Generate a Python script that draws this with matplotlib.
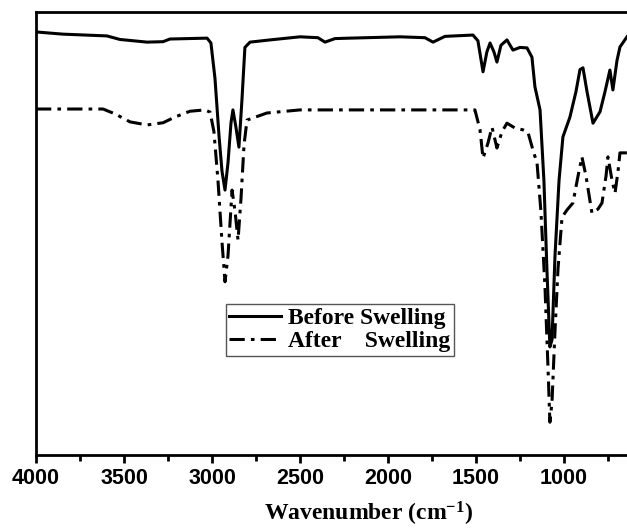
import matplotlib
matplotlib.use("Agg")
import matplotlib.pyplot as plt
from matplotlib.ticker import MultipleLocator

plt.rcParams['mathtext.fontset'] = 'custom'
plt.rcParams['mathtext.rm'] = 'Liberation Serif:bold'
plt.rcParams['mathtext.it'] = 'Liberation Serif:bold'
plt.rcParams['mathtext.bf'] = 'Liberation Serif:bold'

# Before swelling (solid line): wavenumber (cm-1) and transmittance (a.u.)
before_wn = [4000, 3847, 3597, 3523, 3369, 3278, 3239, 3028, 3006, 2983, 2960, 2943,
             2926, 2909, 2892, 2881, 2864, 2847, 2830, 2813, 2784, 2670, 2500, 2398,
             2358, 2301, 2216, 1932, 1790, 1744, 1676, 1517, 1489, 1460, 1438, 1420,
             1398, 1381, 1358, 1324, 1290, 1250, 1210, 1182, 1165, 1136, 1114, 1097,
             1080, 1068, 1051, 1028, 1006, 966, 932, 909, 892, 869, 835, 795, 767,
             739, 722, 699, 682, 642]
before_t = [95.5, 95.0, 94.6, 93.8, 93.2, 93.3, 93.9, 94.1, 93.0, 85.0, 72.0, 64.0,
            59.8, 66.0, 75.0, 77.9, 74.0, 69.5, 80.0, 92.0, 93.2, 93.7, 94.4, 94.2,
            93.2, 94.0, 94.1, 94.4, 94.2, 93.2, 94.5, 94.8, 93.5, 86.5, 91.0, 93.0,
            91.0, 88.7, 92.5, 93.7, 91.4, 92.0, 91.9, 89.8, 83.1, 77.9, 62.0, 42.0,
            24.4, 26.0, 45.0, 62.0, 71.8, 76.3, 82.0, 87.0, 87.4, 82.0, 74.9, 77.5, 82.0,
            86.9, 82.4, 89.0, 92.1, 94.4]

# After swelling (dash-dot line)
after_wn = [4000, 3619, 3551, 3466, 3369, 3278, 3210, 3125, 3040, 3011, 2989, 2966,
            2943, 2926, 2909, 2886, 2869, 2852, 2835, 2818, 2801, 2688, 2500, 1932,
            1506, 1477, 1460, 1432, 1409, 1381, 1352, 1324, 1278, 1233, 1205, 1176,
            1153, 1131, 1108, 1091, 1080, 1068, 1051, 1034, 1011, 983, 949, 920, 898,
            875, 841, 807, 784, 761, 750, 727, 710, 693, 682, 642]
after_t = [78.1, 78.1, 77.0, 75.2, 74.5, 75.0, 76.3, 77.6, 77.9, 77.4, 73.0, 62.0,
           48.0, 39.1, 45.0, 59.8, 55.0, 48.5, 58.0, 70.0, 75.6, 77.2, 77.9, 77.9,
           77.9, 73.4, 67.0, 70.4, 74.0, 69.3, 73.0, 74.9, 73.8, 73.4, 72.9, 68.8,
           65.9, 55.0, 38.0, 20.0, 7.4, 12.0, 28.0, 42.0, 53.7, 55.3, 56.9, 63.0, 67.3,
           63.0, 54.6, 55.5, 56.9, 63.0, 67.3, 62.0, 59.1, 64.0, 68.2, 68.2]

x_ticks = [4000, 3500, 3000, 2500, 2000, 1500, 1000]

fig = plt.figure(figsize=(6.27, 5.28), dpi=100)
# axes run a little past the right edge, as in the cropped original
ax = fig.add_axes([36 / 627, 73 / 528, 604 / 627, 443 / 528])

ax.plot(before_wn, before_t, color="black", lw=2.2, label="Before Swelling")
ax.plot(after_wn, after_t, color="black", lw=2.2, ls=(0, (5, 2, 1.2, 2)),
        label="After    Swelling")

ax.set_xlim(4000, 568)
ax.set_ylim(0, 100)
ax.set_xticks(x_ticks)
ax.xaxis.set_minor_locator(MultipleLocator(250))
ax.set_yticks([])
for side in ['left', 'bottom', 'top', 'right']:
    ax.spines[side].set_linewidth(2)
ax.tick_params(axis='x', which='major', direction='out', length=6, width=2, pad=3)
ax.tick_params(axis='x', which='minor', direction='out', length=4, width=2)
for lbl in ax.get_xticklabels():
    lbl.set_fontfamily("Liberation Sans")
    lbl.set_fontweight("bold")
    lbl.set_fontsize(15.5)

fig.text(369 / 627, 7 / 528, "Wavenumber (cm$^{-1}$)", fontsize=17,
         fontfamily="Liberation Serif", fontweight="bold", ha="center", va="baseline")

leg = ax.legend(loc="center", bbox_to_anchor=((340 - 36) / 604, 0.282),
                prop={"family": "Liberation Serif", "weight": "bold", "size": 17},
                handlelength=2.2, handletextpad=0.3, borderpad=0.15, labelspacing=0.05,
                borderaxespad=0, fancybox=False, framealpha=1)
leg.get_frame().set_edgecolor("#555555")
leg.get_frame().set_linewidth(1)

fig.savefig("out.png", dpi=100)
